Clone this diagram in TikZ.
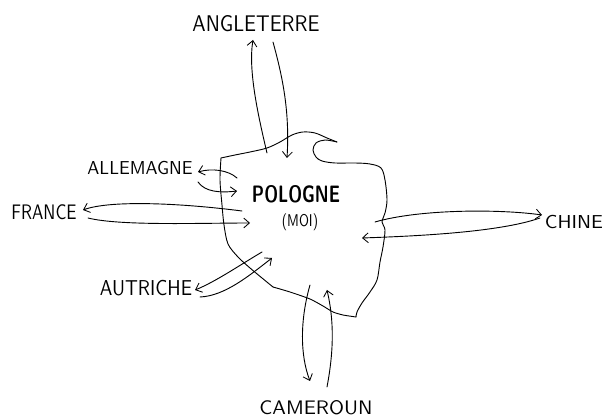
\documentclass[tikz,border=0pt]{standalone}
\usetikzlibrary{arrows.meta}
\newcommand{\fitlbl}[3]{\resizebox{#1cm}{#2cm}{#3}}
\newcommand{\fitlbltot}[3]{\resizebox*{#1cm}{#2cm}{#3}}
\tikzset{
  lbl/.style={inner sep=0pt, font=\sffamily},
  pen/.style={line width=0.65pt, line cap=round, line join=round},
  arr/.style={pen, -{Straight Barb[length=4pt,width=7pt,line width=0.6pt]}},
}
\begin{document}
\begin{tikzpicture}[x=0.025cm,y=-0.025cm]
\useasboundingbox (0,0) rectangle (608,418);
\fill[white] (0,0) rectangle (608,418);

% labels
\node[lbl] (angleterre) at (256,24) {\fitlbl{3.175}{0.4}{ANGLETERRE}};
\node[lbl] (allemagne) at (140,168) {\fitlbl{2.625}{0.33}{ALLEMAGNE}};
\node[lbl] (france) at (44,212) {\fitlbl{1.625}{0.37}{FRANCE}};
\node[lbl] (autriche) at (146,288) {\fitlbl{2.3}{0.38}{AUTRICHE}};
\node[lbl] (pologne) at (296,194) {\fitlbl{2.2}{0.425}{\bfseries POLOGNE}};
\node[lbl] (moi) at (300,222) {\fitlbltot{0.9}{0.425}{(MOI)}};
\node[lbl] (chine) at (574,222) {\fitlbl{1.45}{0.33}{CHINE}};
\node[lbl] (cameroun) at (316,408) {\fitlbl{2.825}{0.35}{CAMEROUN}};

% outline of the country
\draw[pen] plot[smooth,tension=0.55] coordinates {(221,158) (235,155) (250,152) (267,148) (280,142) (292,135) (303,132) (315,133) (327,138) (337,142)};
\draw[pen] plot[smooth,tension=0.55] coordinates {(337,142) (325,140) (316,143) (313,150) (316,157) (322,161) (335,163) (355,163) (370,164) (381,168) (385,180) (387,200) (385,213) (382,222) (385,230) (383,247) (380,262) (377,280) (370,292) (362,303) (357,312) (356,317)};
\draw[pen] plot[smooth,tension=0.4] coordinates {(356,317) (343,315) (333,312) (323,306) (310,299) (290,292) (273,287)};
\draw[pen] plot[smooth,tension=0.5] coordinates {(273,287) (262,278) (250,268) (238,257) (228,244) (224,225) (222,205) (220,180) (221,158)};

% end points
\coordinate (angA) at (267,153); \coordinate (angB) at (253,40);
\coordinate (angC) at (273,42);  \coordinate (angD) at (287,158);
\coordinate (allA) at (237,178); \coordinate (allB) at (198,172);
\coordinate (allC) at (198,182); \coordinate (allD) at (237,191);
\coordinate (frA) at (242,211);  \coordinate (frB) at (83,210);
\coordinate (frC) at (88,218);   \coordinate (frD) at (250,223);
\coordinate (auA) at (262,252);  \coordinate (auB) at (195,290);
\coordinate (auC) at (200,297);  \coordinate (auD) at (272,258);
\coordinate (chA) at (375,222);  \coordinate (chB) at (542,215);
\coordinate (chC) at (540,218);  \coordinate (chD) at (362,238);
\coordinate (caA) at (310,285);  \coordinate (caB) at (310,381);
\coordinate (caC) at (327,387);  \coordinate (caD) at (327,290);

% connectors
\draw[arr] (angA) .. controls (258,115) and (248,70) .. (angB);
\draw[arr] (angC) .. controls (282,75) and (290,110) .. (angD);
\draw[arr] (allA) .. controls (228,170) and (212,168) .. (allB);
\draw[arr] (allC) .. controls (205,192) and (220,193) .. (allD);
\draw[arr] (frA) .. controls (180,203) and (110,200) .. (frB);
\draw[arr] (frC) .. controls (120,226) and (200,223) .. (frD);
\draw[arr] (auA) .. controls (240,265) and (215,282) .. (auB);
\draw[arr] (auC) .. controls (225,296) and (250,275) .. (auD);
\draw[arr] (chA) .. controls (420,209) and (500,209) .. (chB);
\draw[arr] (chC) .. controls (500,232) and (420,236) .. (chD);
\draw[arr] (caA) .. controls (300,320) and (300,355) .. (caB);
\draw[arr] (caC) .. controls (334,350) and (334,320) .. (caD);
\end{tikzpicture}
\end{document}
